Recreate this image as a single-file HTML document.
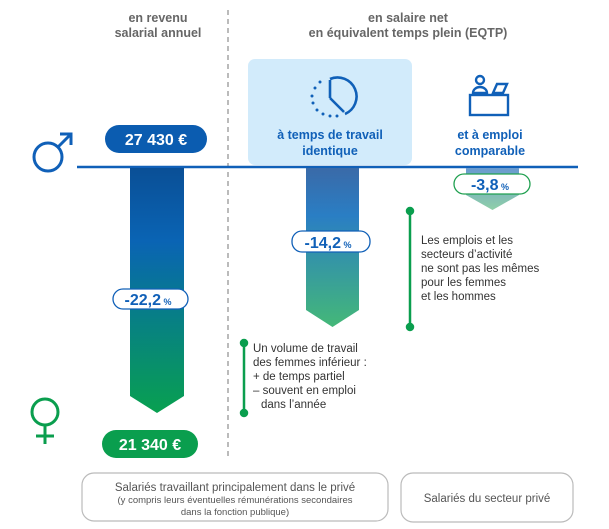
<!DOCTYPE html>
<html><head><meta charset="utf-8"><style>
body{margin:0;background:#fff;}
svg{display:block;font-family:"Liberation Sans",sans-serif;}
</style></head><body>
<svg width="609" height="529" viewBox="0 0 609 529" xmlns="http://www.w3.org/2000/svg">
<defs>
<linearGradient id="g1" x1="0" y1="0" x2="0" y2="1">
<stop offset="0" stop-color="#0a4f96"/><stop offset="0.3" stop-color="#0a64b4"/><stop offset="0.55" stop-color="#077a8e"/><stop offset="1" stop-color="#08a050"/></linearGradient>
<linearGradient id="g2" x1="0" y1="0" x2="0" y2="1">
<stop offset="0" stop-color="#3a6aa8"/><stop offset="0.3" stop-color="#2a7ec4"/><stop offset="1" stop-color="#44b878"/></linearGradient>
<linearGradient id="g3" x1="0" y1="0" x2="0" y2="1">
<stop offset="0" stop-color="#6a9ad0"/><stop offset="1" stop-color="#8fd0a8"/></linearGradient>
</defs>
<g fill="#666" font-weight="bold" font-size="12.5" text-anchor="middle">
<text x="158" y="22">en revenu</text><text x="158" y="37">salarial annuel</text>
<text x="408" y="22">en salaire net</text><text x="408" y="37">en équivalent temps plein (EQTP)</text>
</g>
<line x1="228" y1="10" x2="228" y2="458" stroke="#777" stroke-width="1" stroke-dasharray="5,4"/>
<rect x="248" y="59" width="164" height="106" rx="7" fill="#d2ebfb"/>
<!-- clock -->
<g fill="#1060b8">
<path d="M330 79 A18 18 0 0 1 345 114" fill="none" stroke="#1060b8" stroke-width="2.6"/>
<line x1="330" y1="80" x2="330" y2="98" stroke="#1060b8" stroke-width="2.6"/>
<line x1="330" y1="98" x2="344" y2="112" stroke="#1060b8" stroke-width="2.6"/>
<circle cx="320" cy="82" r="1.5"/><circle cx="315" cy="88" r="1.5"/><circle cx="312" cy="96" r="1.5"/><circle cx="313" cy="103" r="1.5"/><circle cx="317" cy="110" r="1.5"/><circle cx="323" cy="114" r="1.5"/><circle cx="330" cy="116" r="1.5"/><circle cx="337" cy="116" r="1.5"/>
</g>
<!-- desk -->
<g fill="none" stroke="#1060b8" stroke-width="2.4">
<rect x="470" y="95" width="38" height="20"/>
<circle cx="480" cy="80" r="4"/>
<path d="M473 93 a7 6 0 0 1 14 0z"/>
<path d="M493 93 l4 -9 h10 l-4 9z"/>
</g>
<g fill="#1060b8" font-weight="bold" font-size="12.5" text-anchor="middle">
<text x="330" y="139">à temps de travail</text><text x="330" y="155">identique</text>
<text x="490" y="139">et à emploi</text><text x="490" y="155">comparable</text>
</g>
<line x1="77" y1="167" x2="578" y2="167" stroke="#1060b8" stroke-width="2.5"/>
<path d="M130 168 H184 V396 L157 413 L130 396Z" fill="url(#g1)"/>
<path d="M306 168 H359 V310 L332.5 327 L306 310Z" fill="url(#g2)"/>
<path d="M466 168 H519 V195 L492.5 210 L466 195Z" fill="url(#g3)"/>
<rect x="105" y="125" width="102" height="28" rx="14" fill="#0b5cb0"/>
<text x="156" y="145" fill="#fff" font-weight="bold" font-size="16" text-anchor="middle">27 430 €</text>
<rect x="102" y="430" width="96" height="28" rx="14" fill="#0a9e4e"/>
<text x="150" y="450" fill="#fff" font-weight="bold" font-size="16" text-anchor="middle">21 340 €</text>
<g stroke-width="1.3" fill="#fff">
<rect x="113" y="289" width="75" height="20" rx="10" stroke="#1060b8"/>
<rect x="292" y="231" width="78" height="21" rx="10" stroke="#1060b8"/>
<rect x="454" y="174" width="76" height="20" rx="10" stroke="#20a050"/>
</g>
<g fill="#1060b8" font-weight="bold" text-anchor="middle">
<text x="148" y="305" font-size="16">-22,2<tspan font-size="9"> %</tspan></text>
<text x="328" y="248" font-size="16">-14,2<tspan font-size="9"> %</tspan></text>
<text x="490" y="190" font-size="16">-3,8<tspan font-size="9"> %</tspan></text>
</g>
<g fill="none" stroke="#1060b8" stroke-width="3">
<circle cx="48" cy="157" r="14"/><line x1="58" y1="147" x2="70" y2="135"/><path d="M60 134 H71 V145"/>
</g>
<g fill="none" stroke="#0a9e4e" stroke-width="3">
<circle cx="45" cy="412" r="13"/><line x1="45" y1="425" x2="45" y2="444"/><line x1="36" y1="436" x2="54" y2="436"/>
</g>
<g stroke="#0a9e4e" stroke-width="2.5" fill="#0a9e4e">
<line x1="410" y1="211" x2="410" y2="327"/><circle cx="410" cy="211" r="3"/><circle cx="410" cy="327" r="3"/>
<line x1="244" y1="343" x2="244" y2="413"/><circle cx="244" cy="343" r="3"/><circle cx="244" cy="413" r="3"/>
</g>
<g fill="#333" font-size="11.5">
<text x="421" y="244">Les emplois et les</text><text x="421" y="258">secteurs d’activité</text><text x="421" y="272">ne sont pas les mêmes</text><text x="421" y="286">pour les femmes</text><text x="421" y="300">et les hommes</text>
<text x="253" y="352">Un volume de travail</text><text x="253" y="366">des femmes inférieur :</text><text x="253" y="380">+ de temps partiel</text><text x="253" y="394">– souvent en emploi</text><text x="261" y="408">dans l’année</text>
</g>
<rect x="82" y="473" width="306" height="48" rx="12" fill="#fff" stroke="#bbb" stroke-width="1.2"/>
<rect x="401" y="473" width="172" height="49" rx="12" fill="#fff" stroke="#bbb" stroke-width="1.2"/>
<g fill="#555" text-anchor="middle">
<text x="235" y="491" font-size="11.5">Salariés travaillant principalement dans le privé</text>
<text x="235" y="503" font-size="9.5">(y compris leurs éventuelles rémunérations secondaires</text>
<text x="235" y="515" font-size="9.5">dans la fonction publique)</text>
<text x="487" y="502" font-size="11.5">Salariés du secteur privé</text>
</g>
</svg>
</body></html>
